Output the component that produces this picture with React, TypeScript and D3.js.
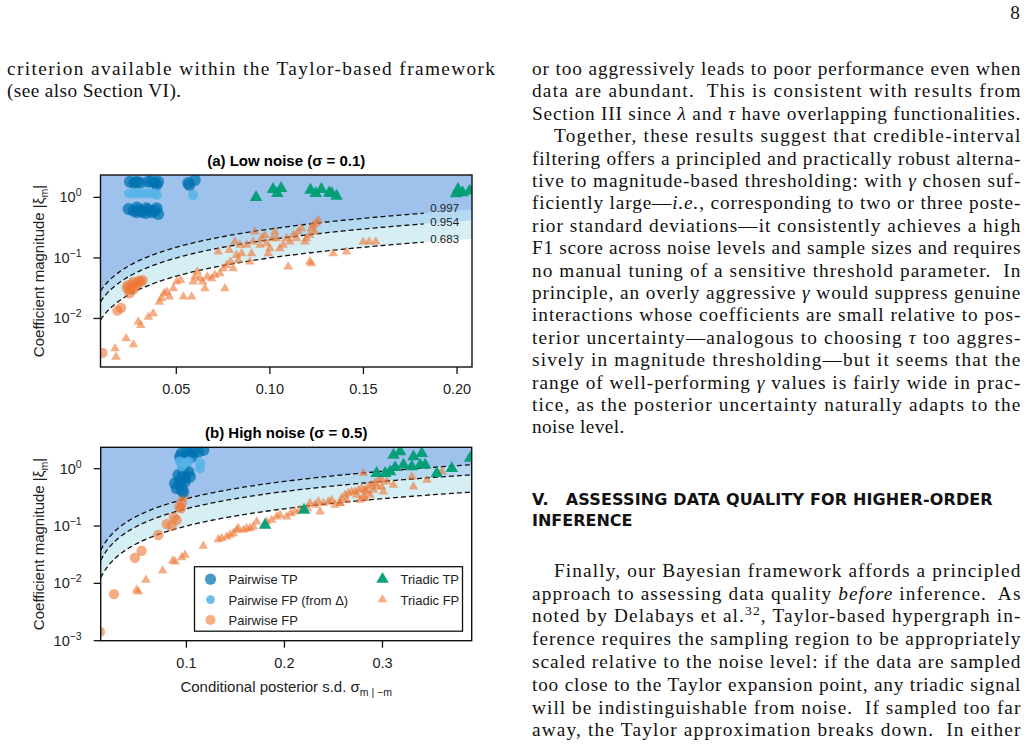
import * as d3 from "d3";

type Pt = [number, number];

// (a) low noise, sigma = 0.1
const pairwiseTpA: Pt[] = [
  [0.0252, 1.81], [0.0275, 1.72], [0.0288, 1.81], [0.0306, 1.75], [0.035, 1.81],
  [0.0368, 1.85], [0.0386, 1.75], [0.0403, 1.81], [0.0395, 1.62], [0.0563, 1.72],
  [0.0599, 1.93], [0.057, 1.6],
  [0.0245, 0.64], [0.027, 0.6], [0.0288, 0.57], [0.03, 0.62], [0.0318, 0.58],
  [0.0335, 0.55], [0.035, 0.62], [0.0368, 0.57], [0.0386, 0.6], [0.0395, 0.66],
  [0.0403, 0.53], [0.029, 0.68], [0.034, 0.66],
];
const pairwiseFpDeltaA: Pt[] = [
  [0.0248, 1.16], [0.0275, 1.16], [0.0302, 1.16], [0.033, 1.16], [0.0355, 1.16],
  [0.038, 1.16], [0.0395, 1.1], [0.059, 1.09],
];
const pairwiseFpA: Pt[] = [
  [0.0105, 0.0027], [0.0185, 0.0135], [0.0205, 0.015], [0.0235, 0.032], [0.025, 0.03],
  [0.026, 0.036], [0.027, 0.04], [0.028, 0.034], [0.029, 0.038], [0.03, 0.042],
  [0.031, 0.04], [0.025, 0.026], [0.027, 0.03], [0.024, 0.035], [0.032, 0.043],
];
const triadicTpA: Pt[] = [
  [0.0926, 1.0], [0.1017, 1.36], [0.106, 1.41], [0.104, 1.16], [0.1217, 1.32],
  [0.1245, 1.16], [0.1275, 1.36], [0.1317, 1.19], [0.1356, 1.05], [0.133, 1.16],
  [0.2005, 1.36], [0.203, 1.2], [0.2067, 1.28], [0.1995, 1.15],
];
const triadicFpA: Pt[] = [
  [0.0173, 0.00319], [0.0178, 0.00232], [0.0232, 0.00467], [0.0271, 0.00372], [0.0297, 0.0088],
  [0.031, 0.00775], [0.0351, 0.0106], [0.0377, 0.0121], [0.041, 0.0188], [0.0422, 0.0214],
  [0.0434, 0.0259], [0.0449, 0.0276], [0.0463, 0.0228], [0.0484, 0.0313], [0.0502, 0.0403],
  [0.0523, 0.043], [0.0538, 0.0228], [0.0582, 0.0228], [0.0591, 0.0403], [0.06, 0.0488],
  [0.0612, 0.059], [0.0626, 0.0458], [0.0641, 0.0403], [0.0653, 0.0313], [0.0666, 0.0488],
  [0.0689, 0.0458], [0.0707, 0.052], [0.0724, 0.126], [0.0733, 0.0554], [0.0751, 0.067],
  [0.076, 0.0313], [0.0769, 0.076], [0.0783, 0.1345], [0.079, 0.0863], [0.0804, 0.067],
  [0.0813, 0.185], [0.0822, 0.111], [0.0831, 0.092], [0.084, 0.163], [0.0849, 0.1185],
  [0.0876, 0.163], [0.0893, 0.0863], [0.0902, 0.1185], [0.0911, 0.185], [0.092, 0.27],
  [0.0947, 0.163], [0.0956, 0.21], [0.0973, 0.238], [0.0982, 0.1735], [0.0991, 0.1185],
  [0.1, 0.1435], [0.1014, 0.21], [0.1027, 0.27], [0.1036, 0.21], [0.1053, 0.1435],
  [0.1071, 0.163], [0.1089, 0.21], [0.1098, 0.0713], [0.1107, 0.185], [0.1125, 0.238],
  [0.1142, 0.21], [0.1151, 0.27], [0.1169, 0.307], [0.1187, 0.185], [0.1196, 0.21],
  [0.1213, 0.238], [0.1222, 0.307], [0.1231, 0.348], [0.124, 0.27], [0.1249, 0.371],
  [0.1258, 0.421], [0.1213, 0.0863], [0.1222, 0.081], [0.1338, 0.1185], [0.1409, 0.126],
  [0.1498, 0.185], [0.153, 0.185], [0.1566, 0.185],
];

// (b) high noise, sigma = 0.5
const pairwiseTpB: Pt[] = [
  [0.0952, 1.85], [0.1003, 1.98], [0.1037, 1.85], [0.1071, 1.98], [0.1122, 1.98],
  [0.1173, 2.12], [0.0935, 1.62], [0.0986, 1.52], [0.1054, 1.62], [0.0969, 1.16],
  [0.0918, 0.777], [0.0969, 0.83], [0.102, 0.887], [0.0935, 0.635], [0.0986, 0.679],
  [0.1037, 0.726], [0.0884, 0.556], [0.0935, 0.52], [0.0986, 0.594], [0.0901, 0.454],
  [0.0952, 0.425], [0.0969, 0.397],
];
const pairwiseFpDeltaB: Pt[] = [
  [0.0935, 1.33], [0.0986, 1.24], [0.102, 1.33], [0.1139, 1.24], [0.1139, 1.01], [0.0952, 1.09],
];
const pairwiseFpB: Pt[] = [
  [0.0118, 0.00143], [0.0261, 0.0065], [0.0475, 0.028], [0.0543, 0.0371], [0.0714, 0.0697],
  [0.0799, 0.1084], [0.0873, 0.1416], [0.0901, 0.127], [0.0928, 0.217], [0.0952, 0.255],
  [0.0969, 0.325], [0.0945, 0.203], [0.085, 0.1],
];
const triadicTpB: Pt[] = [
  [0.1802, 0.104], [0.22, 0.19], [0.294, 0.83], [0.3027, 0.83], [0.3078, 0.887],
  [0.3112, 1.73], [0.318, 1.98], [0.3214, 1.16], [0.3299, 1.09], [0.3316, 1.62],
  [0.3384, 1.16], [0.3401, 1.85], [0.3435, 1.16], [0.3554, 0.83], [0.3707, 1.01],
  [0.3894, 1.52], [0.3129, 1.05],
];
const triadicFpB: Pt[] = [
  [0.0492, 0.00764], [0.051, 0.00715], [0.0588, 0.01143], [0.0758, 0.01663], [0.086, 0.0248],
  [0.0884, 0.0239], [0.0952, 0.0284], [0.0986, 0.0312], [0.1173, 0.0448], [0.1326, 0.0585],
  [0.136, 0.0609], [0.1411, 0.0651], [0.1445, 0.0697], [0.1479, 0.0745], [0.1513, 0.0851],
  [0.153, 0.091], [0.1581, 0.0851], [0.1615, 0.091], [0.1649, 0.091], [0.1683, 0.0973],
  [0.1717, 0.119], [0.1819, 0.119], [0.187, 0.127], [0.1921, 0.1456], [0.1955, 0.1556],
  [0.2023, 0.1456], [0.2064, 0.1663], [0.2108, 0.178], [0.2159, 0.19], [0.2234, 0.203],
  [0.2261, 0.249], [0.2312, 0.233], [0.2346, 0.266], [0.2397, 0.249], [0.2448, 0.266],
  [0.2482, 0.284], [0.2516, 0.233], [0.2567, 0.249], [0.2584, 0.304], [0.2618, 0.348],
  [0.2652, 0.372], [0.2686, 0.397], [0.272, 0.397], [0.2754, 0.425], [0.2788, 0.454],
  [0.2822, 0.425], [0.2856, 0.486], [0.289, 0.52], [0.2924, 0.556], [0.2958, 0.635],
  [0.2992, 0.635], [0.2805, 0.325], [0.2771, 0.284], [0.2806, 0.83], [0.33, 0.725],
  [0.3316, 0.485], [0.3453, 0.635], [0.3606, 0.887], [0.3112, 0.52], [0.2823, 0.304],
  [0.2364, 0.178], [0.2568, 0.249], [0.2992, 0.486], [0.3009, 0.397], [0.3044, 0.594],
  [0.2737, 0.348], [0.2635, 0.284], [0.2873, 0.348], [0.2839, 0.397], [0.2941, 0.486],
  [0.2907, 0.425],
];

const xTicksA = [0.05, 0.1, 0.15, 0.2];
const xTicksB = [0.1, 0.2, 0.3];
const yExpsA = [0, -1, -2];
const yExpsB = [0, -1, -2, -3];
const credLevels = [1, 2, 3];
const credLabels = ["0.683", "0.954", "0.997"];
const bandFills = ["#d6eff5", "#b5d9f1", "#9ec2ec"];

const COL = { tp: "#0072B2", delta: "#56B4E9", fp: "#EE7733", tri: "#009E73" };
const SANS = "'Liberation Sans', Arial, Helvetica, sans-serif";
const SERIF = "'Liberation Serif', 'Times New Roman', serif";
const BODY = 19.3;

// page text
const leftColumn = [
  "criterion available within the Taylor-based framework",
  "(see also Section VI).",
];
const rightTop = [
  "or too aggressively leads to poor performance even when",
  "data are abundant.  This is consistent with results from",
  "Section III since *λ* and *τ* have overlapping functionalities.",
  "Together, these results suggest that credible-interval",
  "filtering offers a principled and practically robust alterna-",
  "tive to magnitude-based thresholding: with *γ* chosen suf-",
  "ficiently large—*i.e.*, corresponding to two or three poste-",
  "rior standard deviations—it consistently achieves a high",
  "F1 score across noise levels and sample sizes and requires",
  "no manual tuning of a sensitive threshold parameter.  In",
  "principle, an overly aggressive *γ* would suppress genuine",
  "interactions whose coefficients are small relative to pos-",
  "terior uncertainty—analogous to choosing *τ* too aggres-",
  "sively in magnitude thresholding—but it seems that the",
  "range of well-performing *γ* values is fairly wide in prac-",
  "tice, as the posterior uncertainty naturally adapts to the",
  "noise level.",
];
const rightBottom = [
  "Finally, our Bayesian framework affords a principled",
  "approach to assessing data quality *before* inference.  As",
  "noted by Delabays et al.^32^, Taylor-based hypergraph in-",
  "ference requires the sampling region to be appropriately",
  "scaled relative to the noise level: if the data are sampled",
  "too close to the Taylor expansion point, any triadic signal",
  "will be indistinguishable from noise.  If sampled too far",
  "away, the Taylor approximation breaks down.  In either",
];

function Line(props: { s: string; x: number; y: number; width?: number }) {
  const parts = props.s.split(/(\*[^*]+\*|\^[^^]+\^)/).filter((p) => p !== "");
  let shift = 0;
  return (
    <text
      x={props.x}
      y={props.y}
      fontFamily={SERIF}
      fontSize={BODY}
      fill="#111"
      style={{ whiteSpace: "pre", letterSpacing: props.width ? undefined : "0.4px" }}
      textLength={props.width}
      lengthAdjust={props.width ? "spacing" : undefined}
    >
      {parts.map((p, i) => {
        if (p.startsWith("*")) {
          const dy = -shift;
          shift = 0;
          return (
            <tspan key={i} fontStyle="italic" dy={dy || undefined}>
              {p.slice(1, -1)}
            </tspan>
          );
        }
        if (p.startsWith("^")) {
          shift = -7;
          return (
            <tspan key={i} fontSize={13.5} dy={-7}>
              {p.slice(1, -1)}
            </tspan>
          );
        }
        const dy = -shift;
        shift = 0;
        return (
          <tspan key={i} dy={dy || undefined}>
            {p}
          </tspan>
        );
      })}
    </text>
  );
}

interface PanelProps {
  id: string;
  title: string;
  box: { l: number; r: number; t: number; b: number };
  xDomain: [number, number];
  yDomain: [number, number];
  xTicks: number[];
  xFmt: string;
  yExps: number[];
  tp: Pt[];
  delta: Pt[];
  fp: Pt[];
  ttp: Pt[];
  tfp: Pt[];
  lineEnd: number;
  showLabels?: boolean;
  showLegend?: boolean;
  showXLabel?: boolean;
}

function Panel(p: PanelProps) {
  const { l, r, t, b } = p.box;
  const x = d3.scaleLinear().domain(p.xDomain).range([l, r]);
  const y = d3.scaleLog().domain(p.yDomain).range([b, t]);
  const fmt = d3.format(p.xFmt);
  const n = 200;
  const grid = d3.range(n + 1).map((i) => p.xDomain[0] + ((p.xDomain[1] - p.xDomain[0]) * i) / n);
  const lineGrid = grid.filter((v) => v <= p.lineEnd);

  const bands = [
    [credLevels[0], credLevels[1]],
    [credLevels[1], credLevels[2]],
    [credLevels[2], Infinity],
  ];
  const bandArea = (lo: number, hi: number) =>
    d3
      .area<number>()
      .x((v) => x(v))
      .y0((v) => y(lo * v))
      .y1((v) => (hi === Infinity ? t - 2 : y(hi * v)))(grid) ?? "";
  const curve = (z: number) =>
    d3
      .line<number>()
      .x((v) => x(v))
      .y((v) => y(z * v))(lineGrid) ?? "";

  const triBig = d3.symbol(d3.symbolTriangle, 68)() ?? "";
  const triSmall = d3.symbol(d3.symbolTriangle, 40)() ?? "";
  const cx = (l + r) / 2;
  const clip = `clip-${p.id}`;
  // nudge the three line labels apart a little so they do not collide
  const labelNudge = [1, 2, -1];

  return (
    <g>
      <defs>
        <clipPath id={clip}>
          <rect x={l} y={t} width={r - l} height={b - t} />
        </clipPath>
      </defs>
      <text x={cx} y={t - 9} textAnchor="middle" fontFamily={SANS} fontWeight="bold" fontSize={15}>
        {p.title}
      </text>
      <g clipPath={`url(#${clip})`}>
        {bands.map(([lo, hi], i) => (
          <path key={i} d={bandArea(lo, hi)} fill={bandFills[i]} />
        ))}
        {credLevels.map((z) => (
          <path key={z} d={curve(z)} fill="none" stroke="#111" strokeWidth={1.3} strokeDasharray="5 3" />
        ))}
        {p.tfp.map((d, i) => (
          <path key={`tf${i}`} d={triSmall} transform={`translate(${x(d[0])},${y(d[1])})`} fill={COL.fp} fillOpacity={0.6} />
        ))}
        {p.ttp.map((d, i) => (
          <path key={`tt${i}`} d={triBig} transform={`translate(${x(d[0])},${y(d[1])})`} fill={COL.tri} fillOpacity={0.95} />
        ))}
        {p.fp.map((d, i) => (
          <circle key={`pf${i}`} cx={x(d[0])} cy={y(d[1])} r={5.2} fill={COL.fp} fillOpacity={0.6} />
        ))}
        {p.tp.map((d, i) => (
          <circle key={`pt${i}`} cx={x(d[0])} cy={y(d[1])} r={6} fill={COL.tp} fillOpacity={0.72} />
        ))}
        {p.delta.map((d, i) => (
          <circle key={`pd${i}`} cx={x(d[0])} cy={y(d[1])} r={5} fill={COL.delta} fillOpacity={0.85} />
        ))}
      </g>
      {p.showLabels &&
        credLevels.map((z, i) => (
          <text
            key={z}
            x={x(p.lineEnd) + 6}
            y={y(z * p.lineEnd) + labelNudge[i]}
            fontFamily={SANS}
            fontSize={11.5}
            fill="#222"
          >
            {credLabels[i]}
          </text>
        ))}
      <rect x={l} y={t} width={r - l} height={b - t} fill="none" stroke="#111" strokeWidth={1.4} />
      {p.xTicks.map((v) => (
        <g key={v} transform={`translate(${x(v)},${b})`}>
          <line y2={7} stroke="#111" strokeWidth={1.3} />
          <text y={27} textAnchor="middle" fontFamily={SANS} fontSize={14.5} fill="#222">
            {fmt(v)}
          </text>
        </g>
      ))}
      {p.yExps.map((e) => (
        <g key={e} transform={`translate(${l},${y(Math.pow(10, e))})`}>
          <line x2={-7} stroke="#111" strokeWidth={1.3} />
          <text x={-19} y={5} textAnchor="end" fontFamily={SANS} fontSize={14.5} fill="#222">
            10
            <tspan dy={-6} fontSize={10.5}>
              {e === 0 ? "0" : `−${-e}`}
            </tspan>
          </text>
        </g>
      ))}
      <text
        transform={`translate(44,${(t + b) / 2}) rotate(-90)`}
        textAnchor="middle"
        fontFamily={SANS}
        fontSize={15}
        fill="#222"
      >
        Coefficient magnitude |ξ
        <tspan fontSize={10.5} dy={4}>m</tspan>
        <tspan dy={-4}>|</tspan>
      </text>
      {p.showXLabel && (
        <text x={cx} y={b + 51} textAnchor="middle" fontFamily={SANS} fontSize={15} fill="#222">
          Conditional posterior s.d. σ
          <tspan fontSize={10.5} dy={4}>m | −m</tspan>
        </text>
      )}
      {p.showLegend && <Legend x={194.5} y={566.7} triBig={triBig} triSmall={triSmall} />}
    </g>
  );
}

const legendLeft = [
  { label: "Pairwise TP", color: COL.tp, r: 5.6, op: 0.72 },
  { label: "Pairwise FP (from Δ)", color: COL.delta, r: 4.4, op: 0.85 },
  { label: "Pairwise FP", color: COL.fp, r: 5, op: 0.6 },
];
const legendRight = [
  { label: "Triadic TP", color: COL.tri, big: true, op: 0.95 },
  { label: "Triadic FP", color: COL.fp, big: false, op: 0.6 },
];

function Legend(props: { x: number; y: number; triBig: string; triSmall: string }) {
  const { x, y } = props;
  return (
    <g>
      <rect x={x} y={y} width={268} height={64.5} fill="#fff" stroke="#111" strokeWidth={1.3} />
      {legendLeft.map((d, i) => (
        <g key={d.label} transform={`translate(${x},${y + 12.5 + i * 20.4})`}>
          <circle cx={16} cy={0} r={d.r} fill={d.color} fillOpacity={d.op} />
          <text x={34} y={5} fontFamily={SANS} fontSize={13} fill="#222">
            {d.label}
          </text>
        </g>
      ))}
      {legendRight.map((d, i) => (
        <g key={d.label} transform={`translate(${x},${y + 12.5 + i * 20.4})`}>
          <path d={d.big ? props.triBig : props.triSmall} transform="translate(188,0)" fill={d.color} fillOpacity={d.op} />
          <text x={206} y={5} fontFamily={SANS} fontSize={13} fill="#222">
            {d.label}
          </text>
        </g>
      ))}
    </g>
  );
}

export default function App() {
  const rL = 532;
  const rR = 1020.4;
  return (
    <svg
      width={1028}
      height={748}
      viewBox="0 0 1028 748"
      style={{ position: "absolute", left: 0, top: 0, background: "#fff" }}
    >
      <rect width={1028} height={748} fill="#fff" />
      <text x={1020} y={19} textAnchor="end" fontFamily={SERIF} fontSize={BODY} fill="#111">
        8
      </text>
      {leftColumn.map((s, i) => (
        <Line key={i} s={s} x={7} y={75 + i * 22.4} width={i === 0 ? 488 : undefined} />
      ))}
      {rightTop.map((s, i) => {
        const indent = i === 3 ? 22 : 0;
        return (
          <Line
            key={i}
            s={s}
            x={rL + indent}
            y={75 + i * 22.4}
            width={i === rightTop.length - 1 ? undefined : rR - rL - indent}
          />
        );
      })}
      <text
        x={rL}
        y={505}
        fontFamily="'DejaVu Sans', sans-serif"
        fontWeight="bold"
        fontSize={16}
        fill="#111"
        style={{ whiteSpace: "pre" }}
        textLength={460.7}
        lengthAdjust="spacing"
      >
        {"V.   ASSESSING DATA QUALITY FOR HIGHER-ORDER"}
      </text>
      <text x={rL} y={525.7} fontFamily="'DejaVu Sans', sans-serif" fontWeight="bold" fontSize={16} fill="#111">
        INFERENCE
      </text>
      {rightBottom.map((s, i) => {
        const indent = i === 0 ? 22 : 0;
        return <Line key={i} s={s} x={rL + indent} y={576.7 + i * 22.8} width={rR - rL - indent} />;
      })}
      <Panel
        id="a"
        title="(a) Low noise (σ = 0.1)"
        box={{ l: 100.5, r: 472, t: 175, b: 367 }}
        xDomain={[0.0095, 0.208]}
        yDomain={[0.00158, 2.34]}
        xTicks={xTicksA}
        xFmt=".2f"
        yExps={yExpsA}
        tp={pairwiseTpA}
        delta={pairwiseFpDeltaA}
        fp={pairwiseFpA}
        ttp={triadicTpA}
        tfp={triadicFpA}
        lineEnd={0.1825}
        showLabels
      />
      <Panel
        id="b"
        title="(b) High noise (σ = 0.5)"
        box={{ l: 100.7, r: 471.7, t: 447.3, b: 640.7 }}
        xDomain={[0.0126, 0.391]}
        yDomain={[0.001, 2.36]}
        xTicks={xTicksB}
        xFmt=".1f"
        yExps={yExpsB}
        tp={pairwiseTpB}
        delta={pairwiseFpDeltaB}
        fp={pairwiseFpB}
        ttp={triadicTpB}
        tfp={triadicFpB}
        lineEnd={0.391}
        showLegend
        showXLabel
      />
    </svg>
  );
}
